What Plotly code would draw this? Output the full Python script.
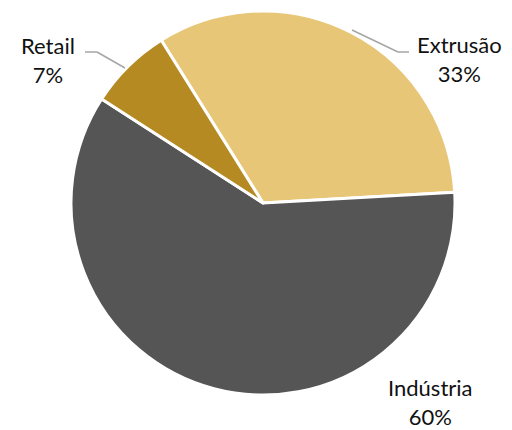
import plotly.graph_objects as go

labels = ["Extrusão", "Indústria", "Retail"]
values = [33, 60, 7]
colors = ["#E8C677", "#555555", "#B68A22"]

W, H = 512, 430
OFF = 8  # page body margin
cx, cy, r = 263 - OFF, 203 - OFF, 192

fig = go.Figure(go.Pie(
    labels=labels, values=values, sort=False, direction="clockwise",
    rotation=-32,
    marker=dict(colors=colors, line=dict(color="white", width=3)),
    textinfo="none", hoverinfo="label+percent",
    domain=dict(x=[(cx - r) / W, (cx + r) / W], y=[1 - (cy + r) / H, 1 - (cy - r) / H]),
    showlegend=False,
))

font = dict(family="Lato, Noto Sans, sans-serif", size=22, color="#111111")

def px(x, y):
    return (x - OFF) / W, 1 - (y - OFF) / H

label_pos = {"Retail": (48, 60), "Extrusão": (459, 59), "Indústria": (430, 402)}
total = sum(values)
for lab, v in zip(labels, values):
    x, y = px(*label_pos[lab])
    fig.add_annotation(x=x, y=y, xref="paper", yref="paper", showarrow=False,
                       text=f"{lab}<br>{round(100 * v / total)}%", font=font,
                       align="center", xanchor="center", yanchor="middle")

leaders = [[(85, 52), (97, 52), (125, 68)], [(409, 52), (398, 52), (352, 30)]]
for pts in leaders:
    for (x0, y0), (x1, y1) in zip(pts[:-1], pts[1:]):
        a0, b0 = px(x0, y0)
        a1, b1 = px(x1, y1)
        fig.add_shape(type="line", xref="paper", yref="paper", x0=a0, y0=b0, x1=a1, y1=b1,
                      line=dict(color="#A6A6A6", width=1.5))

fig.update_layout(width=W, height=H, margin=dict(l=0, r=0, t=0, b=0),
                  paper_bgcolor="white", plot_bgcolor="white")
fig.write_html("out.html")
